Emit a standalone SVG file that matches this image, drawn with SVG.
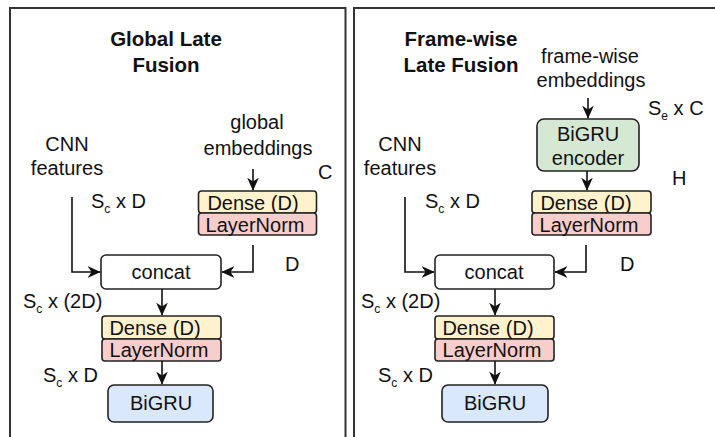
<svg xmlns="http://www.w3.org/2000/svg" width="715" height="437" viewBox="0 0 715 437">
  <style>
    .panel { fill: #ffffff; stroke: #333333; stroke-width: 2; }
    .t { font-family: "Liberation Sans", Arial, sans-serif; font-size: 20px; fill: #111111; }
    .title { font-family: "Liberation Sans", Arial, sans-serif; font-size: 20.5px; font-weight: bold; fill: #111111; text-anchor: middle; }
    .mid { text-anchor: middle; }
    .sub { font-size: 12px; }
    .box { stroke: #222222; stroke-width: 1.6; }
    .dense { fill: #fff2cc; }
    .norm { fill: #f8cecc; }
    .gru { fill: #dae8fc; }
    .enc { fill: #d5e8d4; }
    .plain { fill: #ffffff; }
    .edge { fill: none; stroke: #111111; stroke-width: 1.6; marker-end: url(#arrow); }
  </style>
  <defs>
    <marker id="arrow" viewBox="0 0 10 10" refX="9.5" refY="5" markerWidth="13" markerHeight="13" markerUnits="userSpaceOnUse" orient="auto">
      <path d="M0,0.5 L10,5 L0,9.5 L3,5 Z" fill="#111111"/>
    </marker>
  </defs>

  <rect width="715" height="437" fill="#ffffff"/>

  <!-- panel frames -->
  <rect class="panel" x="10" y="8" width="335.5" height="440"/>
  <rect class="panel" x="354" y="8" width="380" height="440"/>

  <!-- ===== Global Late Fusion ===== -->
  <g id="global-title">
    <text class="title" x="166" y="46">Global Late</text>
    <text class="title" x="166" y="72">Fusion</text>
  </g>
  <g id="global-cnn">
    <text class="t mid" x="67" y="151">CNN</text>
    <text class="t mid" x="67" y="175">features</text>
  </g>
  <g id="global-emb">
    <text class="t mid" x="257" y="129">global</text>
    <text class="t mid" x="258" y="155">embeddings</text>
  </g>
  <g id="global-dense1">
    <rect class="box dense" x="198.5" y="191" width="118" height="22" rx="3"/>
    <text class="t mid" x="253" y="209.5">Dense (D)</text>
  </g>
  <g id="global-norm1">
    <rect class="box norm" x="198.5" y="213" width="118" height="22" rx="3"/>
    <text class="t mid" x="255" y="231.5">LayerNorm</text>
  </g>
  <g id="global-concat">
    <rect class="box plain" x="101" y="255" width="120" height="34" rx="5"/>
    <text class="t mid" x="161" y="279">concat</text>
  </g>
  <g id="global-dense2">
    <rect class="box dense" x="102" y="316" width="119" height="23" rx="3"/>
    <text class="t mid" x="155" y="334.5">Dense (D)</text>
  </g>
  <g id="global-norm2">
    <rect class="box norm" x="102" y="339" width="119" height="22" rx="3"/>
    <text class="t mid" x="159" y="357">LayerNorm</text>
  </g>
  <g id="global-bigru">
    <rect class="box gru" x="108" y="385" width="105" height="37" rx="6"/>
    <text class="t mid" x="161" y="410">BiGRU</text>
  </g>
  <g id="global-dims">
    <text class="t" x="318" y="179">C</text>
    <text class="t" x="91" y="208">S<tspan class="sub" dy="5">c</tspan><tspan dy="-5"> x D</tspan></text>
    <text class="t" x="285" y="271">D</text>
    <text class="t" x="23" y="308">S<tspan class="sub" dy="5">c</tspan><tspan dy="-5"> x (2D)</tspan></text>
    <text class="t" x="43" y="382">S<tspan class="sub" dy="5">c</tspan><tspan dy="-5"> x D</tspan></text>
  </g>

  <!-- ===== Frame-wise Late Fusion ===== -->
  <g id="frame-title">
    <text class="title" x="461" y="46">Frame-wise</text>
    <text class="title" x="461" y="72">Late Fusion</text>
  </g>
  <g id="frame-emb">
    <text class="t mid" x="590" y="63">frame-wise</text>
    <text class="t mid" x="591" y="87">embeddings</text>
  </g>
  <g id="frame-encoder">
    <rect class="box enc" x="537" y="119" width="102" height="52" rx="7"/>
    <text class="t mid" x="588" y="141">BiGRU</text>
    <text class="t mid" x="588" y="165">encoder</text>
  </g>
  <g id="frame-cnn">
    <text class="t mid" x="400" y="151">CNN</text>
    <text class="t mid" x="400" y="175">features</text>
  </g>
  <g id="frame-dense1">
    <rect class="box dense" x="532" y="191" width="119" height="22" rx="3"/>
    <text class="t mid" x="586" y="209.5">Dense (D)</text>
  </g>
  <g id="frame-norm1">
    <rect class="box norm" x="532" y="213" width="119" height="22" rx="3"/>
    <text class="t mid" x="589" y="231.5">LayerNorm</text>
  </g>
  <g id="frame-concat">
    <rect class="box plain" x="435" y="255" width="119" height="34" rx="5"/>
    <text class="t mid" x="494" y="279">concat</text>
  </g>
  <g id="frame-dense2">
    <rect class="box dense" x="435" y="316" width="119" height="23" rx="3"/>
    <text class="t mid" x="488" y="334.5">Dense (D)</text>
  </g>
  <g id="frame-norm2">
    <rect class="box norm" x="435" y="339" width="119" height="22" rx="3"/>
    <text class="t mid" x="492" y="357">LayerNorm</text>
  </g>
  <g id="frame-bigru">
    <rect class="box gru" x="442" y="385" width="106" height="37" rx="6"/>
    <text class="t mid" x="495" y="410">BiGRU</text>
  </g>
  <g id="frame-dims">
    <text class="t" x="648" y="115">S<tspan class="sub" dy="5">e</tspan><tspan dy="-5"> x C</tspan></text>
    <text class="t" x="672" y="185">H</text>
    <text class="t" x="425" y="208">S<tspan class="sub" dy="5">c</tspan><tspan dy="-5"> x D</tspan></text>
    <text class="t" x="620" y="271">D</text>
    <text class="t" x="361" y="308">S<tspan class="sub" dy="5">c</tspan><tspan dy="-5"> x (2D)</tspan></text>
    <text class="t" x="378" y="382">S<tspan class="sub" dy="5">c</tspan><tspan dy="-5"> x D</tspan></text>
  </g>

  <!-- connectors -->
  <g id="connectors">
    <!-- global -->
    <path class="edge" d="M253,169 V190"/>
    <path class="edge" d="M72,197 V272 H100"/>
    <path class="edge" d="M253,245 V272 H222"/>
    <path class="edge" d="M162,289 V315"/>
    <path class="edge" d="M162,361 V384"/>
    <!-- frame-wise -->
    <path class="edge" d="M588,98 V118"/>
    <path class="edge" d="M587,171 V190"/>
    <path class="edge" d="M405,197 V272 H434"/>
    <path class="edge" d="M586,245 V272 H555"/>
    <path class="edge" d="M495,289 V315"/>
    <path class="edge" d="M495,361 V384"/>
  </g>
</svg>
